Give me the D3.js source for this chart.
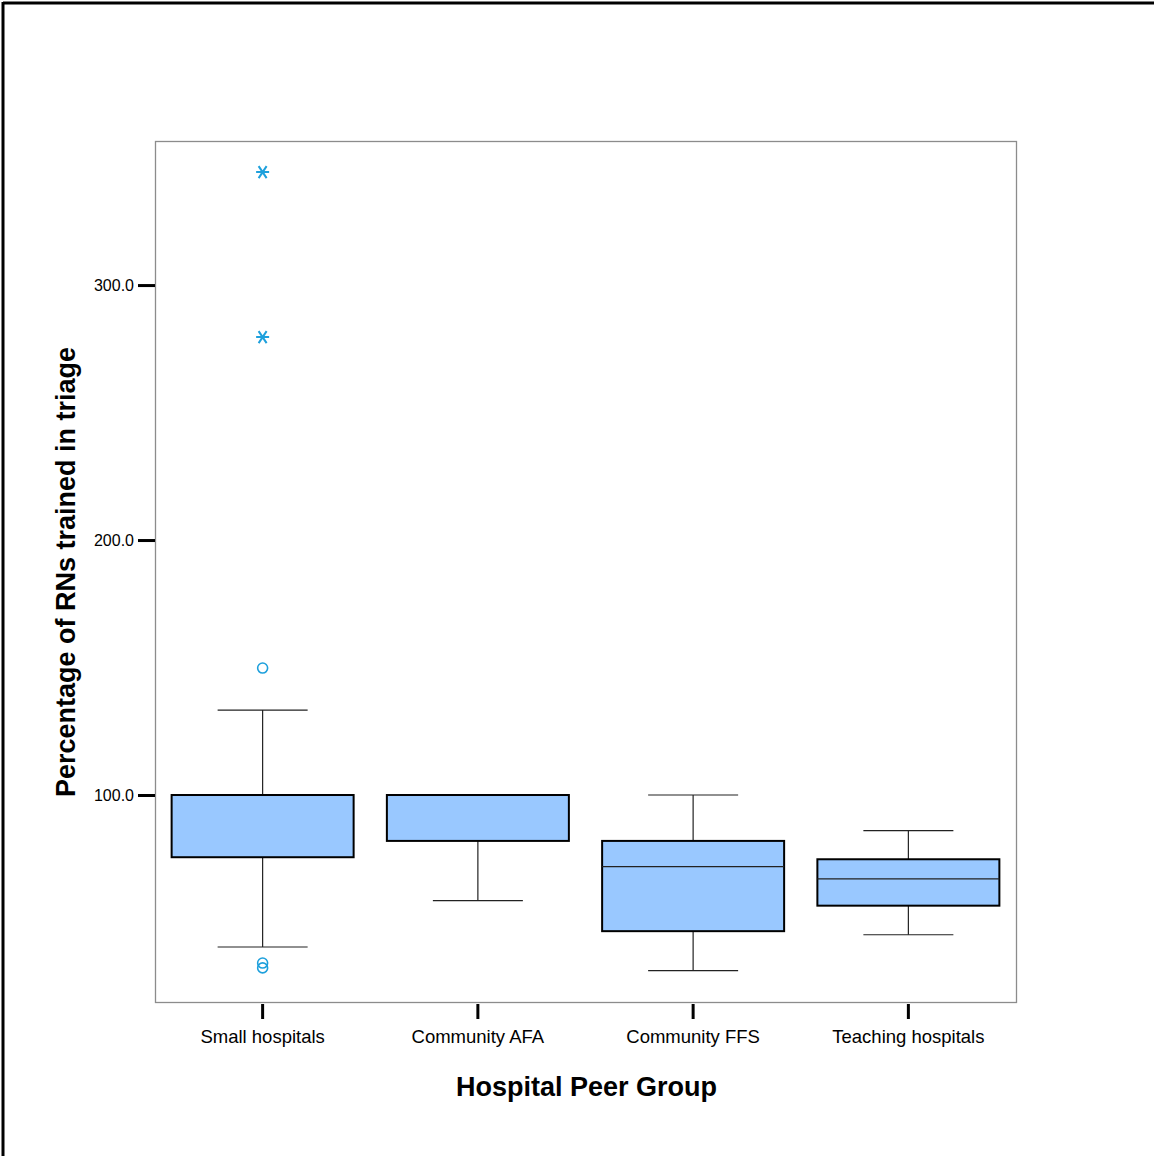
<!DOCTYPE html>
<html>
<head>
<meta charset="utf-8">
<script src="https://cdn.jsdelivr.net/npm/d3@7"></script>
<style>
  body { margin: 0; background: #fff; }
  text { font-family: Arial, "Liberation Sans", sans-serif; }
</style>
</head>
<body>
<div id="chart"></div>
<script>
// groups on the x axis
var groups = ["Small hospitals", "Community AFA", "Community FFS", "Teaching hospitals"];

// box statistics
var whiskerLow  = [40.4, 58.6, 31.1, 45.2];
var q1          = [75.6, 82.0, 46.6, 56.6];
var median      = [100.0, 100.0, 71.9, 67.1];
var q3          = [100.0, 100.0, 82.0, 74.8];
var whiskerHigh = [133.3, 100.0, 100.0, 86.0];

// outliers: [group, value]
var circleOutliers = [["Small hospitals", 149.8], ["Small hospitals", 34.1], ["Small hospitals", 32.2]];
var extremeOutliers = [["Small hospitals", 344.3], ["Small hospitals", 279.6]];

var yTicks = [100, 200, 300];

var W = 1154, H = 1156;
var plot = {left: 155, top: 141, right: 1016, bottom: 1002};

var svg = d3.select("#chart").append("svg")
    .attr("width", W)
    .attr("height", H);

// outer frame (left + top only)
svg.append("line").attr("x1", 3).attr("y1", 3).attr("x2", W).attr("y2", 3)
    .attr("stroke", "#000").attr("stroke-width", 3);
svg.append("line").attr("x1", 3).attr("y1", 2).attr("x2", 3).attr("y2", H)
    .attr("stroke", "#000").attr("stroke-width", 3);

var x = d3.scaleBand()
    .domain(groups)
    .range([plot.left, plot.right]);

var y = d3.scaleLinear()
    .domain([18.82, 356.5])
    .range([plot.bottom, plot.top]);

var boxW = 182, capW = 90;

var data = groups.map(function (g, i) {
    return {g: g, lo: whiskerLow[i], q1: q1[i], med: median[i], q3: q3[i], hi: whiskerHigh[i]};
});

// plot frame
svg.append("rect")
    .attr("x", plot.left + 0.5).attr("y", plot.top + 0.5)
    .attr("width", plot.right - plot.left).attr("height", plot.bottom - plot.top)
    .attr("fill", "none").attr("stroke", "#8c8c8c").attr("stroke-width", 1.3);

var boxes = svg.append("g").selectAll("g")
    .data(data)
    .enter()
    .append("g")
    .attr("transform", function (d) { return "translate(" + (x(d.g) + x.bandwidth() / 2) + ",0)"; });

// whisker stems
boxes.append("line")
    .attr("x1", 0).attr("x2", 0)
    .attr("y1", function (d) { return y(d.hi); })
    .attr("y2", function (d) { return y(d.lo); })
    .attr("stroke", "#222").attr("stroke-width", 1.2);

// caps
boxes.filter(function (d) { return d.hi > d.q3; }).append("line")
    .attr("x1", -capW / 2).attr("x2", capW / 2)
    .attr("y1", function (d) { return y(d.hi); })
    .attr("y2", function (d) { return y(d.hi); })
    .attr("stroke", "#222").attr("stroke-width", 1.2);
boxes.filter(function (d) { return d.lo < d.q1; }).append("line")
    .attr("x1", -capW / 2).attr("x2", capW / 2)
    .attr("y1", function (d) { return y(d.lo); })
    .attr("y2", function (d) { return y(d.lo); })
    .attr("stroke", "#222").attr("stroke-width", 1.2);

// boxes
boxes.append("rect")
    .attr("x", -boxW / 2)
    .attr("y", function (d) { return y(d.q3); })
    .attr("width", boxW)
    .attr("height", function (d) { return y(d.q1) - y(d.q3); })
    .attr("fill", "#99c8ff")
    .attr("stroke", "#000").attr("stroke-width", 2);

// medians
boxes.filter(function (d) { return d.med < d.q3; }).append("line")
    .attr("x1", -boxW / 2).attr("x2", boxW / 2)
    .attr("y1", function (d) { return y(d.med); })
    .attr("y2", function (d) { return y(d.med); })
    .attr("stroke", "#222").attr("stroke-width", 1.2);

// outliers
svg.append("g").selectAll("circle")
    .data(circleOutliers)
    .enter()
    .append("circle")
    .attr("cx", function (d) { return x(d[0]) + x.bandwidth() / 2; })
    .attr("cy", function (d) { return y(d[1]); })
    .attr("r", 5)
    .attr("fill", "none")
    .attr("stroke", "#1ea0dc").attr("stroke-width", 1.6);

// extreme values drawn as asterisks
svg.append("g").selectAll("path")
    .data(extremeOutliers)
    .enter()
    .append("path")
    .attr("transform", function (d) { return "translate(" + (x(d[0]) + x.bandwidth() / 2) + "," + y(d[1]) + ")"; })
    .attr("d", "M-6.5,0L6.5,0M-4,-6L4,6M-4,6L4,-6")
    .attr("fill", "none")
    .attr("stroke", "#1ea0dc").attr("stroke-width", 2);

// y axis
var yAxis = svg.append("g")
    .attr("transform", "translate(" + plot.left + ",0)")
    .call(d3.axisLeft(y).tickValues(yTicks).tickSize(17).tickPadding(4)
        .tickFormat(d3.format(".1f")));
yAxis.select(".domain").remove();
yAxis.selectAll(".tick line").attr("stroke", "#000").attr("stroke-width", 3);
yAxis.selectAll(".tick text")
    .attr("font-size", "16px").attr("fill", "#000")
    .attr("font-family", "Arial, 'Liberation Sans', sans-serif");

// x axis
var xAxis = svg.append("g")
    .attr("transform", "translate(0," + (plot.bottom + 2) + ")")
    .call(d3.axisBottom(x).tickSize(15).tickPadding(11));
xAxis.select(".domain").remove();
xAxis.selectAll(".tick line").attr("stroke", "#000").attr("stroke-width", 3);
xAxis.selectAll(".tick text")
    .attr("font-size", "18.5px").attr("fill", "#000")
    .attr("font-family", "Arial, 'Liberation Sans', sans-serif");

// axis titles
svg.append("text")
    .attr("x", (plot.left + plot.right) / 2 + 1)
    .attr("y", 1096)
    .attr("text-anchor", "middle")
    .attr("font-size", "27px").attr("font-weight", "bold")
    .text("Hospital Peer Group");

svg.append("text")
    .attr("transform", "translate(75," + 572 + ") rotate(-90)")
    .attr("text-anchor", "middle")
    .attr("font-size", "27px").attr("font-weight", "bold")
    .text("Percentage of RNs trained in triage");
</script>
</body>
</html>
